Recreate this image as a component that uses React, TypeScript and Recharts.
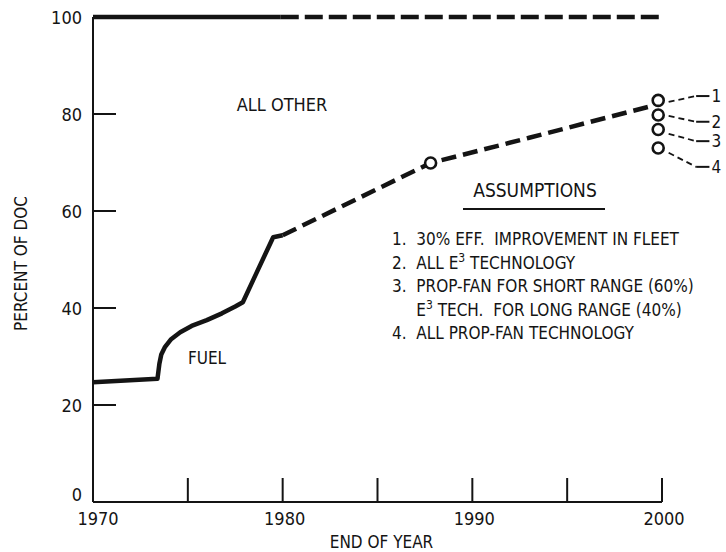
import { ComposedChart, Line, Scatter, XAxis, YAxis, ReferenceLine } from "recharts";

const yearTicks = [1970, 1975, 1980, 1985, 1990, 1995, 2000];
const yearLabels = [1970, 1980, 1990, 2000];
const pctTicks = [0, 20, 40, 60, 80, 100];

// total DOC line (100%), actual then projected
const totalActual = [
  { year: 1970, pct: 100 },
  { year: 1979.9, pct: 100 },
];
const totalProjected = [
  { year: 1979.9, pct: 100 },
  { year: 1999.9, pct: 100 },
];

// fuel share of DOC
const fuelActual = [
  { year: 1970, pct: 24.7 },
  { year: 1973.4, pct: 25.4 },
  { year: 1973.5, pct: 28.5 },
  { year: 1973.6, pct: 30.4 },
  { year: 1973.8, pct: 32.0 },
  { year: 1974.1, pct: 33.5 },
  { year: 1974.6, pct: 35.0 },
  { year: 1975.2, pct: 36.3 },
  { year: 1976.0, pct: 37.5 },
  { year: 1976.8, pct: 38.9 },
  { year: 1977.5, pct: 40.3 },
  { year: 1977.9, pct: 41.2 },
  { year: 1979.5, pct: 54.6 },
  { year: 1980.0, pct: 55.0 },
];
const fuelProjected = [
  { year: 1980.0, pct: 55.0 },
  { year: 1987.8, pct: 69.9 },
  { year: 1993.0, pct: 75.1 },
  { year: 1999.5, pct: 81.7 },
];

const milestones = [{ year: 1987.8, pct: 69.9 }];
const outcomes = [
  { year: 1999.8, pct: 82.8 },
  { year: 1999.8, pct: 79.8 },
  { year: 1999.8, pct: 76.8 },
  { year: 1999.8, pct: 73.0 },
];

// leader lines from the 2000 circles to the assumption numbers
const leaderIds = ["1", "2", "3", "4"];
const leaderStart = [82.5, 79.6, 75.9, 72.0];
const leaderEnd = [83.7, 78.4, 74.4, 69.1];

const assumptions = [
  "1.  30% EFF.  IMPROVEMENT IN FLEET",
  "2.  ALL E|3| TECHNOLOGY",
  "3.  PROP-FAN FOR SHORT RANGE (60%)",
  "     E|3| TECH.  FOR LONG RANGE (40%)",
  "4.  ALL PROP-FAN TECHNOLOGY",
];

const FONT = "'Liberation Sans Narrow', 'DejaVu Sans Condensed', sans-serif";
const INK = "#141414";

function YearTick(props: any) {
  const { x, y, payload } = props;
  const v = payload.value;
  return (
    <g>
      {v !== 1970 && <line x1={x} y1={y} x2={x} y2={y - 24} stroke={INK} strokeWidth={2} />}
      {yearLabels.includes(v) && (
        <text x={v === 1970 ? x + 5 : x + 2} y={y + 23} textAnchor="middle" fontSize={18} fontFamily={FONT} fill={INK}>
          {v}
        </text>
      )}
    </g>
  );
}

function PctTick(props: any) {
  const { x, y, payload } = props;
  const v = payload.value;
  return (
    <g>
      {v !== 0 && v !== 100 && <line x1={x} y1={y} x2={x + 23} y2={y} stroke={INK} strokeWidth={2} />}
      <text x={x - 11} y={v === 0 ? y - 1 : y + 7} textAnchor="end" fontSize={18} fontFamily={FONT} fill={INK}>
        {v}
      </text>
    </g>
  );
}

function OpenCircle(props: any) {
  const { cx, cy } = props;
  return <circle cx={cx} cy={cy} r={5.5} fill="#fff" stroke={INK} strokeWidth={2.6} />;
}

function lineText(s: string) {
  const parts = s.split("|");
  if (parts.length === 1) return s;
  return [
    <tspan key="a">{parts[0]}</tspan>,
    <tspan key="b" dy={-7} fontSize={12}>
      {parts[1]}
    </tspan>,
    <tspan key="c" dy={7}>
      {parts[2]}
    </tspan>,
  ];
}

export default function App() {
  return (
    <div style={{ position: "absolute", left: 0, top: 0, width: 726, height: 552, background: "#fff" }}>
      <ComposedChart width={726} height={552} margin={{ top: 17, right: 64, bottom: 0, left: 0 }}>
        <XAxis
          type="number"
          dataKey="year"
          domain={[1970, 2000]}
          ticks={yearTicks}
          tick={<YearTick />}
          tickSize={0}
          tickMargin={0}
          tickLine={false}
          height={50}
          axisLine={{ stroke: INK, strokeWidth: 2 }}
          label={{ value: "END OF YEAR", position: "insideBottom", offset: 4, dx: 4, fontSize: 17, fontFamily: FONT, fill: INK }}
        />
        <YAxis
          type="number"
          domain={[0, 100]}
          ticks={pctTicks}
          tick={<PctTick />}
          tickSize={0}
          tickMargin={0}
          tickLine={false}
          width={93}
          axisLine={{ stroke: INK, strokeWidth: 2 }}
          label={{ value: "PERCENT OF DOC", angle: -90, position: "center", dx: -26, dy: 4, fontSize: 17, fontFamily: FONT, fill: INK }}
        />
        <Line data={totalActual} dataKey="pct" stroke={INK} strokeWidth={4.5} dot={false} activeDot={false} isAnimationActive={false} />
        <Line data={totalProjected} dataKey="pct" stroke={INK} strokeWidth={4.5} strokeDasharray="18 6" dot={false} activeDot={false} isAnimationActive={false} />
        <Line data={fuelActual} dataKey="pct" stroke={INK} strokeWidth={4.5} strokeLinejoin="round" dot={false} activeDot={false} isAnimationActive={false} />
        <Line data={fuelProjected} dataKey="pct" stroke={INK} strokeWidth={4.5} strokeDasharray="15 7" dot={false} activeDot={false} isAnimationActive={false} />
        {leaderIds.map((id, i) => (
          <ReferenceLine
            key={`d${id}`}
            segment={[
              { x: 2000.35, y: leaderStart[i] },
              { x: 2001.8, y: leaderEnd[i] },
            ]}
            ifOverflow="visible"
            stroke={INK}
            strokeWidth={1.8}
            strokeDasharray="6 4"
          />
        ))}
        {leaderIds.map((id, i) => (
          <ReferenceLine
            key={`s${id}`}
            segment={[
              { x: 2001.8, y: leaderEnd[i] },
              { x: 2002.5, y: leaderEnd[i] },
            ]}
            ifOverflow="visible"
            stroke={INK}
            strokeWidth={2}
            label={{ value: id, position: "right", offset: 2, fontSize: 17, fontFamily: FONT, fill: INK }}
          />
        ))}
        <Scatter data={milestones} dataKey="pct" shape={<OpenCircle />} isAnimationActive={false} />
        <Scatter data={outcomes} dataKey="pct" shape={<OpenCircle />} isAnimationActive={false} />
        <g fontFamily={FONT} fill={INK}>
          <text x={282} y={111} textAnchor="middle" fontSize={18}>ALL OTHER</text>
          <text x={207} y={364} textAnchor="middle" fontSize={17}>FUEL</text>
          <text x={535} y={197} textAnchor="middle" fontSize={19}>ASSUMPTIONS</text>
          <line x1={463} y1={209} x2={605} y2={209} stroke={INK} strokeWidth={2} />
          {assumptions.map((s, i) => (
            <text key={i} x={392} y={245 + i * 23.5} fontSize={17} xmlSpace="preserve" style={{ whiteSpace: "pre" }}>
              {lineText(s)}
            </text>
          ))}
        </g>
      </ComposedChart>
    </div>
  );
}
